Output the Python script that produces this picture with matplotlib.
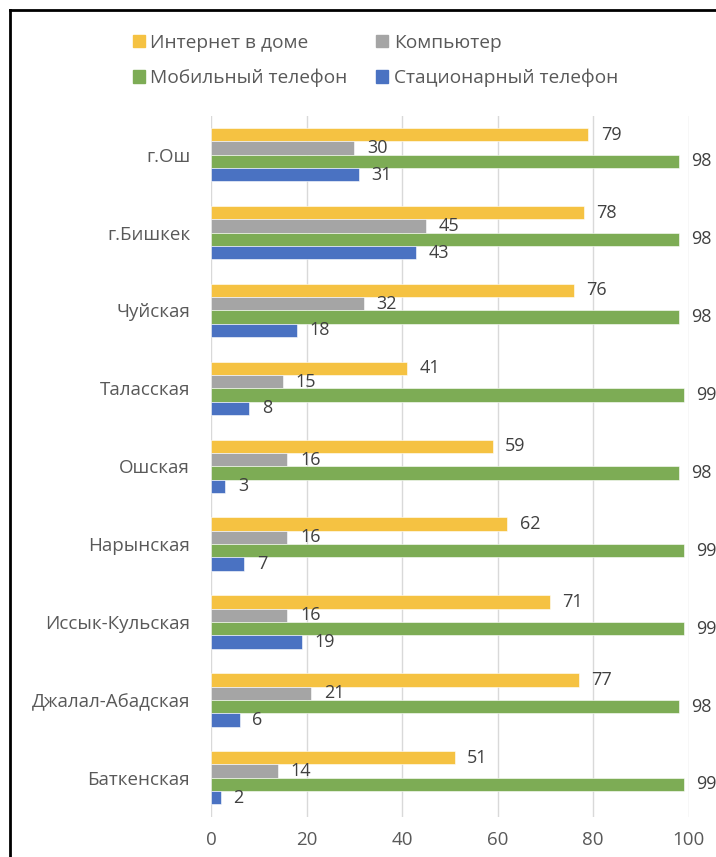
import numpy as np
import matplotlib.pyplot as plt
from matplotlib.patches import Patch
from matplotlib.lines import Line2D

plt.rcParams['font.family'] = ['Open Sans', 'DejaVu Sans']

regions = ['г.Ош', 'г.Бишкек', 'Чуйская', 'Таласская', 'Ошская',
           'Нарынская', 'Иссык-Кульская', 'Джалал-Абадская', 'Баткенская']
internet = [79, 78, 76, 41, 59, 62, 71, 77, 51]
computer = [30, 45, 32, 15, 16, 16, 16, 21, 14]
mobile = [98, 98, 98, 99, 98, 99, 99, 98, 99]
landline = [31, 43, 18, 8, 3, 7, 19, 6, 2]

series = [
    ('Интернет в доме', internet, '#F5C242'),
    ('Компьютер', computer, '#A5A5A5'),
    ('Мобильный телефон', mobile, '#7DAC55'),
    ('Стационарный телефон', landline, '#4A72C2'),
]

txt = '#595959'
fig = plt.figure(figsize=(7.16, 8.57), dpi=100)
ax = fig.add_axes([0.2947, 0.047, 0.667, 0.818])

y = np.arange(len(regions))
h = 0.171
for i, (name, vals, col) in enumerate(series):
    pos = y + (i - 1.5) * h
    ax.barh(pos, vals, height=h, color=col, edgecolor='white', linewidth=0.4, zorder=3)
    for p, v in zip(pos, vals):
        ax.annotate(str(v), (v, p), xytext=(9, 0), textcoords='offset points',
                    va='center', ha='left', fontsize=13, color='#404040',
                    annotation_clip=False)

ax.set_ylim(len(regions) - 0.5, -0.5)
ax.set_xlim(0, 100)
ax.set_xticks(range(0, 101, 20))
ax.set_yticks(y)
ax.set_yticklabels(regions)
ax.tick_params(axis='both', length=0, labelsize=13.5, colors=txt)
ax.tick_params(axis='x', pad=10)
ax.tick_params(axis='y', pad=15)
ax.grid(axis='x', color='#D9D9D9', linewidth=1, zorder=0)
for s in ax.spines.values():
    s.set_visible(False)

# legend in two rows: internet / computer, mobile / landline
handles = [Patch(color=series[k][2]) for k in (0, 2, 1, 3)]
labels = [series[k][0] for k in (0, 2, 1, 3)]
fig.legend(handles, labels, ncol=2, loc='upper left', bbox_to_anchor=(0.162, 0.981),
           frameon=False, fontsize=13.8, labelcolor=txt, handlelength=0.6,
           handleheight=0.6, handletextpad=0.3, columnspacing=1.5, labelspacing=0.9)

# black frame around the chart
fig.add_artist(Line2D([0.0133, 0.0133], [0, 0.988], color='black', lw=2))
fig.add_artist(Line2D([0.0133, 1.0], [0.988, 0.988], color='black', lw=2))

fig.savefig('out.png', dpi=100)
